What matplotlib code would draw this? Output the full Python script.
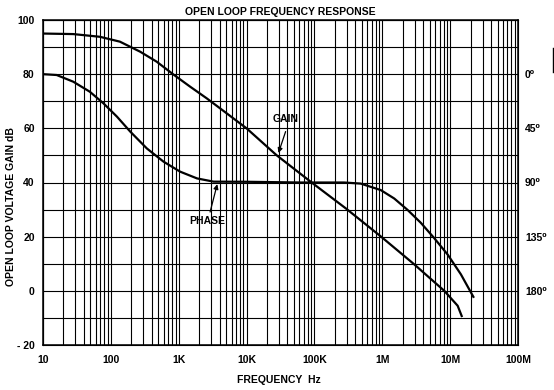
import matplotlib
matplotlib.use("Agg")
import matplotlib.pyplot as plt
from matplotlib.ticker import LogLocator, FixedLocator, NullFormatter
from matplotlib.lines import Line2D

plt.rcParams["font.family"] = ["Liberation Sans", "DejaVu Sans"]
plt.rcParams["font.weight"] = "bold"
plt.rcParams["font.size"] = 7.5
plt.rcParams["axes.unicode_minus"] = False

# Gain curve (dB)
gain_freq = [10, 28, 69, 136, 270, 474, 833, 1470, 2580, 4060, 10e3, 27.6e3,
             91e3, 288e3, 950e3, 2.95e6, 8.2e6, 12.9e6, 14.8e6]
gain_db = [95, 94.8, 93.8, 92, 88.3, 84.6, 79.9, 75.4, 71.1, 67.4, 60, 50.1,
           40, 30.5, 20.1, 9.8, 0, -5.5, -9.3]

# Phase curve (degrees), right-hand scale
phase_freq = [10, 15.9, 28, 49, 78, 123, 193, 339, 598, 1050, 1860, 3270,
              10e3, 62.5e3, 273e3, 480e3, 950e3, 1.5e6, 2.35e6, 3.7e6, 5.8e6,
              9.2e6, 14.4e6, 22e6]
phase_deg = [0, 0.7, 6.3, 14.6, 24.3, 35.3, 47.7, 61.7, 72.7, 81, 86.6, 89.3,
             89.4, 90, 90, 90.9, 96.3, 103.3, 112.7, 123.5, 136.1, 149.9,
             166.3, 185]

x_ticks = [10, 100, 1e3, 1e4, 1e5, 1e6, 1e7, 1e8]
x_labels = ["10", "100", "1K", "10K", "100K", "1M", "10M", "100M"]
y_ticks = [-20, 0, 20, 40, 60, 80, 100]
y_labels = ["- 20", "0", "20", "40", "60", "80", "100"]
phase_ticks = [0, 45, 90, 135, 180]
phase_labels = ["0\u2070", "45\u2070", "90\u2070", "135\u2070", "180\u2070"]

W, H = 554, 390
fig = plt.figure(figsize=(W / 100, H / 100), dpi=100)
ax = fig.add_axes([43 / W, 45 / H, 475 / W, 325 / H])

ax.set_xscale("log")
ax.set_xlim(10, 1e8)
ax.set_ylim(-20, 100)
ax.set_xticks(x_ticks)
ax.set_xticklabels(x_labels)
ax.xaxis.set_minor_locator(LogLocator(base=10, subs=range(2, 10), numticks=20))
ax.xaxis.set_minor_formatter(NullFormatter())
ax.set_yticks(y_ticks)
ax.set_yticklabels(y_labels)
ax.yaxis.set_minor_locator(FixedLocator(range(-20, 101, 10)))
ax.tick_params(which="both", length=0)
ax.tick_params(axis="x", pad=7)
ax.tick_params(axis="y", pad=6)
ax.grid(which="both", color="black", lw=0.8)
for s in ax.spines.values():
    s.set_linewidth(1.1)

ax.plot(gain_freq, gain_db, color="black", lw=1.6, zorder=3)

ax2 = ax.twinx()
ax2.set_ylim(225, -45)
ax2.set_yticks(phase_ticks)
ax2.set_yticklabels(phase_labels)
ax2.tick_params(length=0, pad=5)
ax2.plot(phase_freq, phase_deg, color="black", lw=1.6, zorder=3)

arrow = dict(arrowstyle="-|>", color="black", lw=0.9, mutation_scale=7,
             shrinkA=0, shrinkB=0)
ax.text(37.5e3, 63.6, "GAIN", ha="center", va="center")
ax.annotate("", xy=(29.5e3, 50.9), xytext=(37.6e3, 58.8), arrowprops=arrow)
ax.text(2.62e3, 25.8, "PHASE", ha="center", va="center")
ax.annotate("", xy=(3.7e3, 39.4), xytext=(2.9e3, 29.1), arrowprops=arrow)

fig.text(280 / W, 1 - 12 / H, "OPEN LOOP FREQUENCY RESPONSE",
         ha="center", va="center")
fig.text(279 / W, 1 - 380 / H, "FREQUENCY  Hz", ha="center", va="center")
fig.text(11 / W, 1 - 207 / H, "OPEN LOOP VOLTAGE GAIN dB", rotation=90,
         ha="center", va="center")

# small mark at the right edge of the scan
fig.add_artist(Line2D([553 / W, 553 / W], [1 - 72 / H, 1 - 48 / H],
                      color="black", lw=1))

fig.savefig("out.png", dpi=100)
